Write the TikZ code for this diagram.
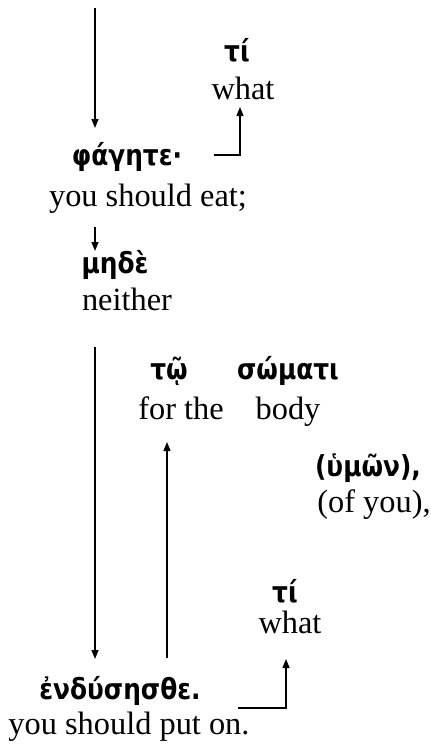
\documentclass[tikz,border=0pt]{standalone}
\usepackage{fontspec}
\setmainfont{Liberation Serif}
\newfontfamily\grk{DejaVu Sans}[FakeStretch=0.86]
\usetikzlibrary{arrows.meta}
\begin{document}
\begin{tikzpicture}[x=1bp,y=-1bp,
  gk/.style={inner sep=0pt,anchor=base,font=\grk\bfseries\fontsize{29}{32}\selectfont},
  en/.style={inner sep=0pt,anchor=base,font=\fontsize{32.5}{36}\selectfont},
  arr/.style={line width=1.3bp,-{Triangle[length=9bp,width=7bp]}}]
\useasboundingbox (0,0) rectangle (430,748);
% nodes
\node[gk] (ti1) at (237,62) {τί};
\node[en] (what1) at (243,99) {what};
\node[gk] (phagete) at (127,165) {φάγητε·};
\node[en] (eat) at (148,206) {you should eat;};
\node[gk] (mede) at (115,273) {μηδὲ};
\node[en] (neither) at (127,310) {neither};
\node[gk] (to) at (169,379) {τῷ};
\node[gk] (somati) at (288,379) {σώματι};
\node[en] (forthe) at (181,419) {for the};
\node[en] (body) at (288,419) {body};
\node[gk] (hymon) at (368,476) {(ὑμῶν),};
\node[en] (ofyou) at (374,512) {(of you),};
\node[gk] (ti2) at (285,602) {τί};
\node[en] (what2) at (290,633) {what};
\node[gk] (endys) at (120,699) {ἐνδύσησθε.};
\node[en] (puton) at (129,734) {you should put on.};
% connector end points
\coordinate (a1s) at (95,8);
\coordinate (a1e) at (95,128);
\coordinate (a2s) at (214,155);
\coordinate (a2c) at (240,155);
\coordinate (a2e) at (240,107);
\coordinate (a3s) at (95,227);
\coordinate (a3e) at (95,251);
\coordinate (a4s) at (95,347);
\coordinate (a4e) at (95,659);
\coordinate (a5s) at (167,658);
\coordinate (a5e) at (167,442);
\coordinate (a6s) at (238,708);
\coordinate (a6c) at (286,708);
\coordinate (a6e) at (286,659);
% connectors
\draw[arr] (a1s) -- (a1e);
\draw[arr] (a2s) -- (a2c) -- (a2e);
\draw[arr] (a3s) -- (a3e);
\draw[arr] (a4s) -- (a4e);
\draw[arr] (a5s) -- (a5e);
\draw[arr] (a6s) -- (a6c) -- (a6e);
\end{tikzpicture}
\end{document}
